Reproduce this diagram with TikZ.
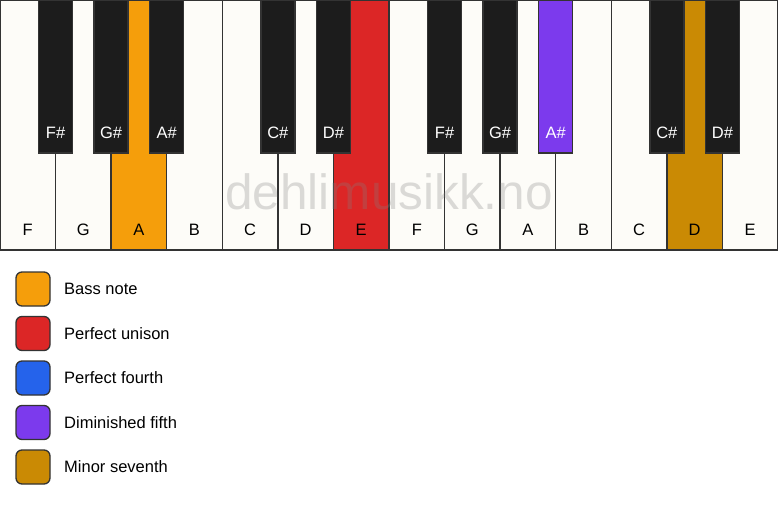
\documentclass[tikz,border=0pt]{standalone}
\usepackage{fontspec}
\setmainfont{Liberation Sans}
\definecolor{keywhite}{HTML}{FDFCF8}
\definecolor{keyblack}{HTML}{1C1C1C}
\definecolor{keyline}{HTML}{333333}
\definecolor{cbass}{HTML}{F59E0B}
\definecolor{cunison}{HTML}{DC2626}
\definecolor{cfourth}{HTML}{2563EB}
\definecolor{cfifth}{HTML}{7C3AED}
\definecolor{cseventh}{HTML}{CA8A04}
\tikzset{
  whitekey/.style={draw=keyline, line width=1.3pt, fill=keywhite, rectangle, anchor=north west, minimum width=55.571pt, minimum height=250pt, inner sep=0pt, outer sep=0pt},
  blackkey/.style={draw=keyline, line width=1.3pt, fill=keyblack, rectangle, anchor=north, minimum width=34pt, minimum height=153pt, inner sep=0pt, outer sep=0pt},
  wlabel/.style={font=\fontsize{16.5}{19}\selectfont, text=black, inner sep=0pt},
  blabel/.style={font=\fontsize{16.5}{19}\selectfont, text=white, inner sep=0pt},
  legbox/.style={draw=keyline, line width=1.3pt, rounded corners=6pt, minimum width=34pt, minimum height=34pt, inner sep=0pt},
  legtext/.style={font=\fontsize{16.5}{19}\selectfont, anchor=west, inner sep=0pt},
  watermark/.style={font=\fontsize{49.5}{58}\selectfont, text=gray, text opacity=0.28, inner sep=0pt}
}
\begin{document}
\begin{tikzpicture}[x=1pt, y=-1pt]
\useasboundingbox (0,0) rectangle (778,506);
\fill[white] (0,0) rectangle (778,506);
\def\W{55.571}
% white keys
\foreach \i/\n/\c in {0/F/keywhite,1/G/keywhite,2/A/cbass,3/B/keywhite,4/C/keywhite,5/D/keywhite,6/E/cunison,7/F/keywhite,8/G/keywhite,9/A/keywhite,10/B/keywhite,11/C/keywhite,12/D/cseventh,13/E/keywhite}{
  \node[whitekey, fill=\c] (w\i) at (\i*\W, 0) {};
}
% watermark
\node[watermark] (wm) at (389, 192) {dehlimusikk.no};
% white key labels
\foreach \i/\n in {0/F,1/G,2/A,3/B,4/C,5/D,6/E,7/F,8/G,9/A,10/B,11/C,12/D,13/E}{
  \node[wlabel] (wl\i) at (\i*\W+\W/2, 230) {\n};
}
% black keys
\foreach \j/\n/\c in {1/F\#/keyblack,2/G\#/keyblack,3/A\#/keyblack,5/C\#/keyblack,6/D\#/keyblack,8/F\#/keyblack,9/G\#/keyblack,10/A\#/cfifth,12/C\#/keyblack,13/D\#/keyblack}{
  \node[blackkey, fill=\c] (b\j) at (\j*\W, 0) {};
  \node[blabel] (bl\j) at (\j*\W, 133) {\n};
}
% legend
\foreach \k/\y/\c/\t in {1/289/cbass/Bass note,2/333.5/cunison/Perfect unison,3/378/cfourth/Perfect fourth,4/422.5/cfifth/Diminished fifth,5/467/cseventh/Minor seventh}{
  \node[legbox, fill=\c] (lb\k) at (33, \y) {};
  \node[legtext] (lt\k) at (64, \y) {\t};
}
\end{tikzpicture}
\end{document}
